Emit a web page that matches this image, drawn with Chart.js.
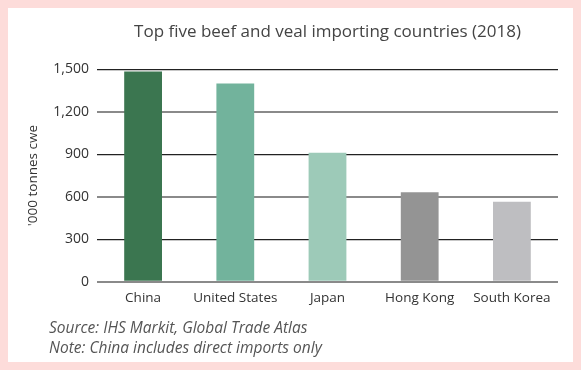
<!DOCTYPE html>
<html>
<head>
<meta charset="utf-8">
<script src="https://cdn.jsdelivr.net/npm/chart.js@4.4.1/dist/chart.umd.min.js"></script>
<style>
  html, body { margin: 0; padding: 0; }
  body { width: 581px; height: 370px; background: #fddcda; position: relative; overflow: hidden; }
  .card { position: absolute; left: 8px; top: 8px; width: 565px; height: 354px; background: #fff; }
  canvas { display: block; }
</style>
</head>
<body>
<div class="card"><canvas id="beefChart" width="565" height="354"></canvas></div>
<script>
const countries = ['China', 'United States', 'Japan', 'Hong Kong', 'South Korea'];
const imports = [1485, 1400, 912, 632, 565];
const barColors = ['#3b7650', '#72b39c', '#9dcab8', '#949494', '#bebec1'];
const yTicks = [0, 300, 600, 900, 1200, 1500];
const notes = ['Source: IHS Markit, Global Trade Atlas', 'Note: China includes direct imports only'];

const FONT = '"Open Sans", Lato, sans-serif';

const footnotePlugin = {
    id: 'footnote',
    afterDraw(chart) {
        const ctx = chart.ctx;
        ctx.save();
        ctx.font = 'italic 15.5px ' + FONT;
        ctx.fillStyle = '#555';
        ctx.textBaseline = 'middle';
        ctx.textAlign = 'left';
        notes.forEach((line, i) => ctx.fillText(line, 41, 321 + i * 19.5));
        ctx.restore();
    }
};

const ctx = document.getElementById('beefChart').getContext('2d');
new Chart(ctx, {
    type: 'bar',
    data: {
        labels: countries,
        datasets: [{
            data: imports,
            backgroundColor: barColors,
            borderWidth: 0,
            barPercentage: 0.82,
            categoryPercentage: 0.5
        }]
    },
    options: {
        responsive: false,
        animation: false,
        layout: { padding: { left: 0, right: 15, top: 0, bottom: 48 } },
        plugins: {
            legend: { display: false },
            tooltip: { enabled: false },
            title: {
                display: true,
                text: 'Top five beef and veal importing countries (2018)',
                fullSize: false,
                color: '#444',
                font: { family: FONT, size: 17, weight: 'normal' },
                padding: { top: 14, bottom: 27 }
            }
        },
        scales: {
            x: {
                grid: { display: false, drawTicks: false },
                border: { display: false },
                ticks: { color: '#333', font: { family: FONT, size: 13.5 }, padding: 8 }
            },
            y: {
                min: 0,
                max: 1500,
                afterBuildTicks: scale => { scale.ticks = yTicks.map(v => ({ value: v })); },
                afterFit: scale => { scale.width = 89; },
                border: { display: false },
                grid: {
                    drawTicks: false,
                    color: c => (c.index % 2 === 0 ? '#8a8a8a' : '#222'),
                    lineWidth: c => (c.index % 2 === 0 ? 2 : 1.2)
                },
                ticks: {
                    color: '#333',
                    font: { family: FONT, size: 14 },
                    padding: 8,
                    callback: v => v.toLocaleString('en-US')
                },
                title: {
                    display: true,
                    text: "'000 tonnes cwe",
                    color: '#333',
                    font: { family: FONT, size: 13.5 },
                    padding: { top: 17, bottom: 0 }
                }
            }
        }
    },
    plugins: [footnotePlugin]
});
</script>
</body>
</html>
